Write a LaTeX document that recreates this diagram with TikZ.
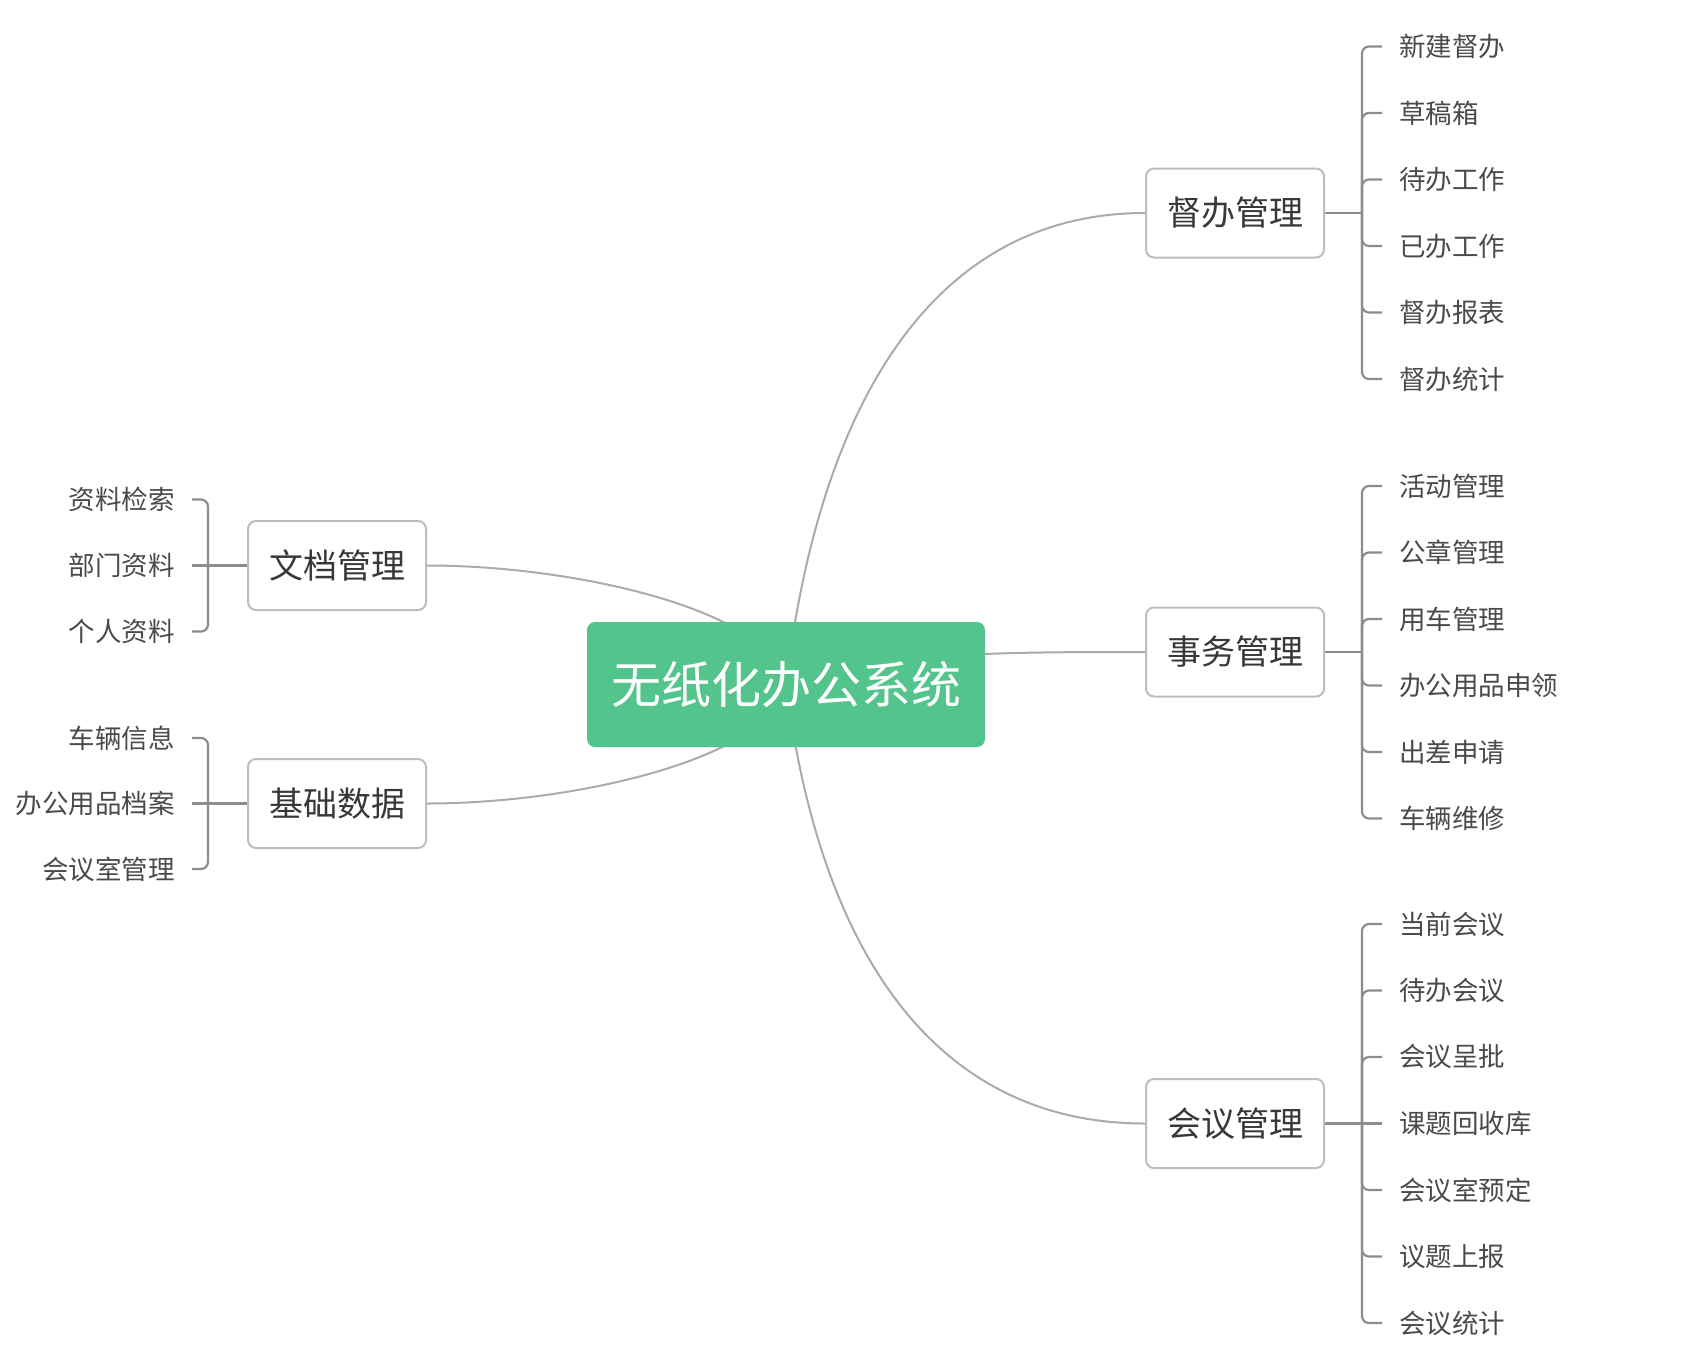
\documentclass[tikz,border=0pt]{standalone}
\usepackage{fontspec}
\setmainfont{Noto Sans CJK SC}
\usetikzlibrary{backgrounds}

\definecolor{rootgreen}{HTML}{52C48C}
\definecolor{boxgray}{HTML}{BDBDBD}
\definecolor{curvegray}{HTML}{ABABAB}
\definecolor{forkgray}{HTML}{8C8C8C}
\definecolor{topictext}{HTML}{383838}
\definecolor{leaftext}{HTML}{4A4A4A}

\begin{document}
\begin{tikzpicture}[x=1pt,y=-1pt,
  root/.style={rectangle,rounded corners=8pt,fill=rootgreen,text=white,
    minimum width=398pt,minimum height=125pt,font=\fontsize{50}{60}\selectfont},
  topic/.style={rectangle,rounded corners=8pt,draw=boxgray,line width=2pt,fill=white,
    text=topictext,minimum width=178pt,minimum height=89pt,font=\fontsize{34}{40}\selectfont},
  leaf/.style={inner xsep=17pt,inner ysep=0pt,text=leaftext,font=\fontsize{26.5}{32}\selectfont},
  branch/.style={draw=curvegray,line width=2pt},
  twig/.style={draw=forkgray,line width=2.2pt,rounded corners=7pt}]

\useasboundingbox (0,0) rectangle (1699,1360);

% system node
\node[root] (system) at (786,684.5) {无纸化办公系统};

% supervise node
\node[topic] (supervise) at (1235,213) {督办管理};
\coordinate (supervise fork) at (1362,213);
\node[leaf,anchor=west] (supervise new) at (1382,46.5) {新建督办};
\node[leaf,anchor=west] (supervise drafts) at (1382,113) {草稿箱};
\node[leaf,anchor=west] (supervise todo) at (1382,179.5) {待办工作};
\node[leaf,anchor=west] (supervise done) at (1382,246) {已办工作};
\node[leaf,anchor=west] (supervise report) at (1382,312.5) {督办报表};
\node[leaf,anchor=west] (supervise stats) at (1382,379) {督办统计};

\draw[twig] (supervise.east) -- (supervise fork);
\draw[twig] (supervise fork) |- (supervise new.west);
\draw[twig] (supervise fork) |- (supervise drafts.west);
\draw[twig] (supervise fork) |- (supervise todo.west);
\draw[twig] (supervise fork) |- (supervise done.west);
\draw[twig] (supervise fork) |- (supervise report.west);
\draw[twig] (supervise fork) |- (supervise stats.west);

% affairs node
\node[topic] (affairs) at (1235,652) {事务管理};
\coordinate (affairs fork) at (1362,652);
\node[leaf,anchor=west] (affairs activity) at (1382,486) {活动管理};
\node[leaf,anchor=west] (affairs seal) at (1382,552.5) {公章管理};
\node[leaf,anchor=west] (affairs car) at (1382,619) {用车管理};
\node[leaf,anchor=west] (affairs supplies) at (1382,685.5) {办公用品申领};
\node[leaf,anchor=west] (affairs trip) at (1382,752) {出差申请};
\node[leaf,anchor=west] (affairs repair) at (1382,818.5) {车辆维修};

\draw[twig] (affairs.east) -- (affairs fork);
\draw[twig] (affairs fork) |- (affairs activity.west);
\draw[twig] (affairs fork) |- (affairs seal.west);
\draw[twig] (affairs fork) |- (affairs car.west);
\draw[twig] (affairs fork) |- (affairs supplies.west);
\draw[twig] (affairs fork) |- (affairs trip.west);
\draw[twig] (affairs fork) |- (affairs repair.west);

% meeting node
\node[topic] (meeting) at (1235,1123.5) {会议管理};
\coordinate (meeting fork) at (1362,1123.5);
\node[leaf,anchor=west] (meeting current) at (1382,924) {当前会议};
\node[leaf,anchor=west] (meeting pending) at (1382,990.5) {待办会议};
\node[leaf,anchor=west] (meeting approval) at (1382,1057) {会议呈批};
\node[leaf,anchor=west] (meeting topics) at (1382,1123.5) {课题回收库};
\node[leaf,anchor=west] (meeting room) at (1382,1190) {会议室预定};
\node[leaf,anchor=west] (meeting report) at (1382,1256.5) {议题上报};
\node[leaf,anchor=west] (meeting stats) at (1382,1323) {会议统计};

\draw[twig] (meeting.east) -- (meeting fork);
\draw[twig] (meeting fork) |- (meeting current.west);
\draw[twig] (meeting fork) |- (meeting pending.west);
\draw[twig] (meeting fork) |- (meeting approval.west);
\draw[twig] (meeting fork) -- (meeting topics.west);
\draw[twig] (meeting fork) |- (meeting room.west);
\draw[twig] (meeting fork) |- (meeting report.west);
\draw[twig] (meeting fork) |- (meeting stats.west);

% docs node
\node[topic] (docs) at (337,565.5) {文档管理};
\coordinate (docs fork) at (208,565.5);
\node[leaf,anchor=east] (docs search) at (192,499.5) {资料检索};
\node[leaf,anchor=east] (docs dept) at (192,565.5) {部门资料};
\node[leaf,anchor=east] (docs personal) at (192,631.5) {个人资料};

\draw[twig] (docs.west) -- (docs fork);
\draw[twig] (docs fork) |- (docs search.east);
\draw[twig] (docs fork) -- (docs dept.east);
\draw[twig] (docs fork) |- (docs personal.east);

% base data node
\node[topic] (basedata) at (337,803.5) {基础数据};
\coordinate (basedata fork) at (208,803.5);
\node[leaf,anchor=east] (base vehicles) at (192,738) {车辆信息};
\node[leaf,anchor=east] (base supplies) at (192,803.5) {办公用品档案};
\node[leaf,anchor=east] (base rooms) at (192,869) {会议室管理};

\draw[twig] (basedata.west) -- (basedata fork);
\draw[twig] (basedata fork) |- (base vehicles.east);
\draw[twig] (basedata fork) -- (base supplies.east);
\draw[twig] (basedata fork) |- (base rooms.east);

% branches behind the nodes
\begin{pgfonlayer}{background}
\draw[branch] (system.center) .. controls (820,400) and (935,213) .. (supervise.west);
\draw[branch] (system.center) .. controls (880,652) and (1000,652) .. (affairs.west);
\draw[branch] (system.center) .. controls (820,952) and (935,1123.5) .. (meeting.west);
\draw[branch] (docs.east) .. controls (580,565.5) and (775,612) .. (system.center);
\draw[branch] (basedata.east) .. controls (580,803.5) and (775,756) .. (system.center);
\end{pgfonlayer}

\end{tikzpicture}
\end{document}
